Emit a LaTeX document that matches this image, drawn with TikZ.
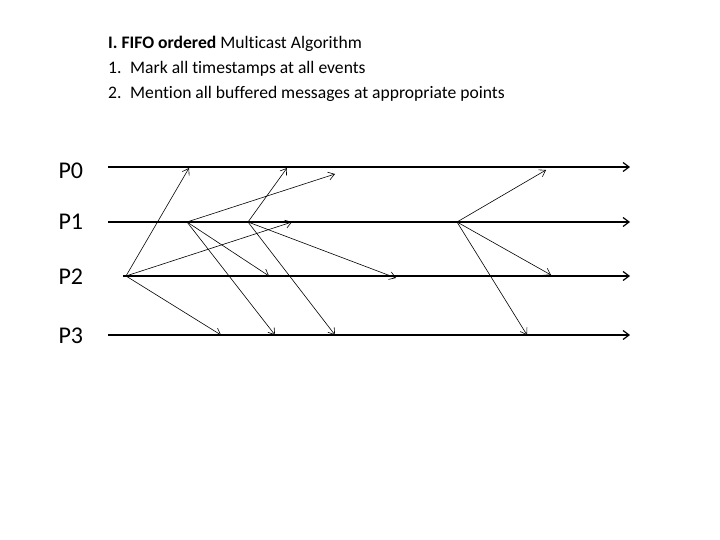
\documentclass[tikz,border=0pt]{standalone}
\usepackage{fontspec}
\setmainfont[RawFeature=-liga]{Carlito}
\usetikzlibrary{arrows.meta}
\begin{document}
\begin{tikzpicture}[x=1pt, y=-1pt,
        procline/.style={line width=1.6pt, -{Straight Barb[length=6pt, width=9pt, line width=1.2pt]}},
        msg/.style={line width=0.6pt, -{Straight Barb[length=6pt, width=8pt]}},
        plabel/.style={font=\fontsize{24}{28}\selectfont, anchor=west},
        textline/.style={font=\fontsize{17.6}{20}\selectfont, anchor=base west, inner sep=0pt},
    ]
        \useasboundingbox (0,0) rectangle (720,540);

        % heading
        \node[textline] (title) at (108,49) {\textbf{I. FIFO ordered} Multicast Algorithm};
        \node[textline] (n1) at (108,74) {1.};
        \node[textline] (t1) at (130,74) {Mark all timestamps at all events};
        \node[textline] (n2) at (108,99) {2.};
        \node[textline] (t2) at (130,99) {Mention all buffered messages at appropriate points};

        % processes
        \node[plabel] (p0) at (55,171) {P0};
        \node[plabel] (p1) at (55,222) {P1};
        \node[plabel] (p2) at (55,277) {P2};
        \node[plabel] (p3) at (55,336) {P3};
        \coordinate (p0s) at (108,167);  \coordinate (p0e) at (630,167);
        \coordinate (p1s) at (108,222);  \coordinate (p1e) at (630,222);
        \coordinate (p2s) at (123,276);  \coordinate (p2e) at (630,276);
        \coordinate (p3s) at (108,335);  \coordinate (p3e) at (630,335);
        \foreach \p in {p0,p1,p2,p3}
            \draw[procline] (\p s) -- (\p e);

        % send events
        \coordinate (s2) at (126,276);
        \coordinate (s1a) at (187,222);
        \coordinate (s1b) at (248,222);
        \coordinate (s1c) at (457,222);

        % receive events
        \coordinate (r0a) at (189,168);
        \coordinate (r1a) at (292,222);
        \coordinate (r3a) at (221,335);
        \coordinate (r0b) at (335,174);
        \coordinate (r2b) at (269,276);
        \coordinate (r3b) at (275,335);
        \coordinate (r0c) at (287,168);
        \coordinate (r2c) at (396,278);
        \coordinate (r3c) at (335,335);
        \coordinate (r0d) at (546,170);
        \coordinate (r2d) at (551,275);
        \coordinate (r3d) at (527,335);

        \draw[msg] (s2) -- (r0a);
        \draw[msg] (s2) -- (r1a);
        \draw[msg] (s2) -- (r3a);
        \draw[msg] (s1a) -- (r0b);
        \draw[msg] (s1a) -- (r2b);
        \draw[msg] (s1a) -- (r3b);
        \draw[msg] (s1b) -- (r0c);
        \draw[msg] (s1b) -- (r2c);
        \draw[msg] (s1b) -- (r3c);
        \draw[msg] (s1c) -- (r0d);
        \draw[msg] (s1c) -- (r2d);
        \draw[msg] (s1c) -- (r3d);
    \end{tikzpicture}
\end{document}
